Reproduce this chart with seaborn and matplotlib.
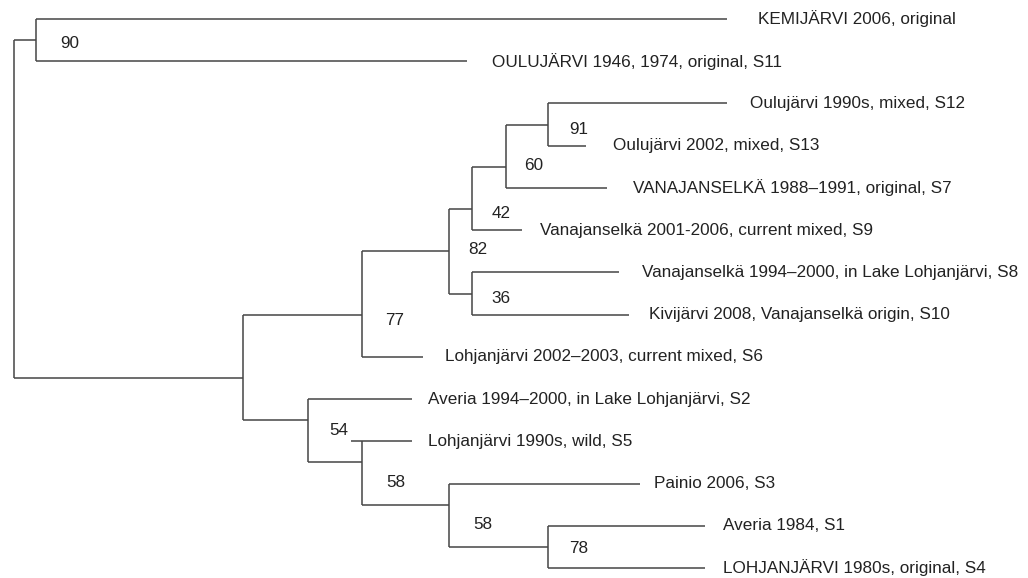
import matplotlib
matplotlib.use("Agg")
import matplotlib.pyplot as plt
import seaborn as sns
from matplotlib import font_manager

# leaves, top to bottom
leaf_labels = [
    "KEMIJÄRVI 2006, original",
    "OULUJÄRVI 1946, 1974, original, S11",
    "Oulujärvi 1990s, mixed, S12",
    "Oulujärvi 2002, mixed, S13",
    "VANAJANSELKÄ 1988–1991, original, S7",
    "Vanajanselkä 2001-2006, current mixed, S9",
    "Vanajanselkä 1994–2000, in Lake Lohjanjärvi, S8",
    "Kivijärvi 2008, Vanajanselkä origin, S10",
    "Lohjanjärvi 2002–2003, current mixed, S6",
    "Averia 1994–2000, in Lake Lohjanjärvi, S2",
    "Lohjanjärvi 1990s, wild, S5",
    "Painio 2006, S3",
    "Averia 1984, S1",
    "LOHJANJÄRVI 1980s, original, S4",
]
leaf_depth = [727, 467, 727, 586, 607, 522, 619, 629, 423, 412, 412, 640, 705, 705]

# internal nodes: name, depth, row position, children, bootstrap
node_names = ["root", "n90", "n243", "n77", "n82", "n42", "n60", "n91",
              "n36", "n54", "n58a", "n58b", "n78"]
node_depth = [14, 36, 243, 362, 449, 472, 506, 548, 472, 308, 362, 449, 548]
node_row = [None, 0.5, 8.5, 7.0, 5.5, 4.5, 3.5, 2.5, 6.5, 9.5, 10.5, 11.5, 12.5]
node_children = [
    ["n90", "n243"],
    [0, 1],
    ["n77", "n54"],
    ["n82", 8],
    ["n42", "n36"],
    ["n60", 5],
    ["n91", 4],
    [2, 3],
    [6, 7],
    [9, "n58a"],
    [10, "n58b"],
    [11, "n78"],
    [12, 13],
]
support = [None, 90, None, 77, 82, 42, 60, 91, 36, 54, 58, 58, 78]

# label placement (pixels)
label_gap = [31, 25, 23, 27, 26, 18, 23, 20, 22, 16, 16, 14, 18, 18]
support_dx = [0, 34, 0, 33, 29, 29, 28, 31, 29, 31, 34, 34, 31]
support_dy = [0, 3, 0, 6, -2, 4, -1, 5, 5, 10, 20, 20, 2]
leaf_start_fix = {10: 351}

sns.set_theme(style="white")
names = {f.name for f in font_manager.fontManager.ttflist}
if "Liberation Sans Narrow" in names:
    fam, fs = "Liberation Sans Narrow", 15
else:
    fam, fs = "Liberation Sans", 12.3
plt.rcParams["font.family"] = [fam, "DejaVu Sans"]

W, H = 1028, 578
fig = plt.figure(figsize=(W / 100, H / 100), dpi=100)
ax = fig.add_axes([0, 0, 1, 1])
step = (568 - 19) / 13.0
ax.set_xlim(0, W)
ax.set_ylim(13 + (H - 568) / step, -19 / step)
ax.axis("off")

lc = "#454545"
lw = 1.1
idx = {n: i for i, n in enumerate(node_names)}


def row_of(c):
    if isinstance(c, int):
        return c
    return node_row[idx[c]]


for i, name in enumerate(node_names):
    x = node_depth[i]
    rows = [row_of(c) for c in node_children[i]]
    ax.plot([x, x], [min(rows), max(rows)], color=lc, lw=lw, solid_capstyle="butt")
    for c, r in zip(node_children[i], rows):
        if isinstance(c, int):
            x0 = leaf_start_fix.get(c, x)
            ax.plot([x0, leaf_depth[c]], [r, r], color=lc, lw=lw, solid_capstyle="butt")
        else:
            ax.plot([x, node_depth[idx[c]]], [r, r], color=lc, lw=lw, solid_capstyle="butt")
    if support[i] is not None:
        ax.text(x + support_dx[i], node_row[i] + support_dy[i] / step, str(support[i]),
                ha="center", va="center", fontsize=fs, color="#222222")

for k, lab in enumerate(leaf_labels):
    ax.text(leaf_depth[k] + label_gap[k], k, lab, ha="left", va="center",
            fontsize=fs, color="#222222")

fig.savefig("out.png", dpi=100, facecolor="white")
